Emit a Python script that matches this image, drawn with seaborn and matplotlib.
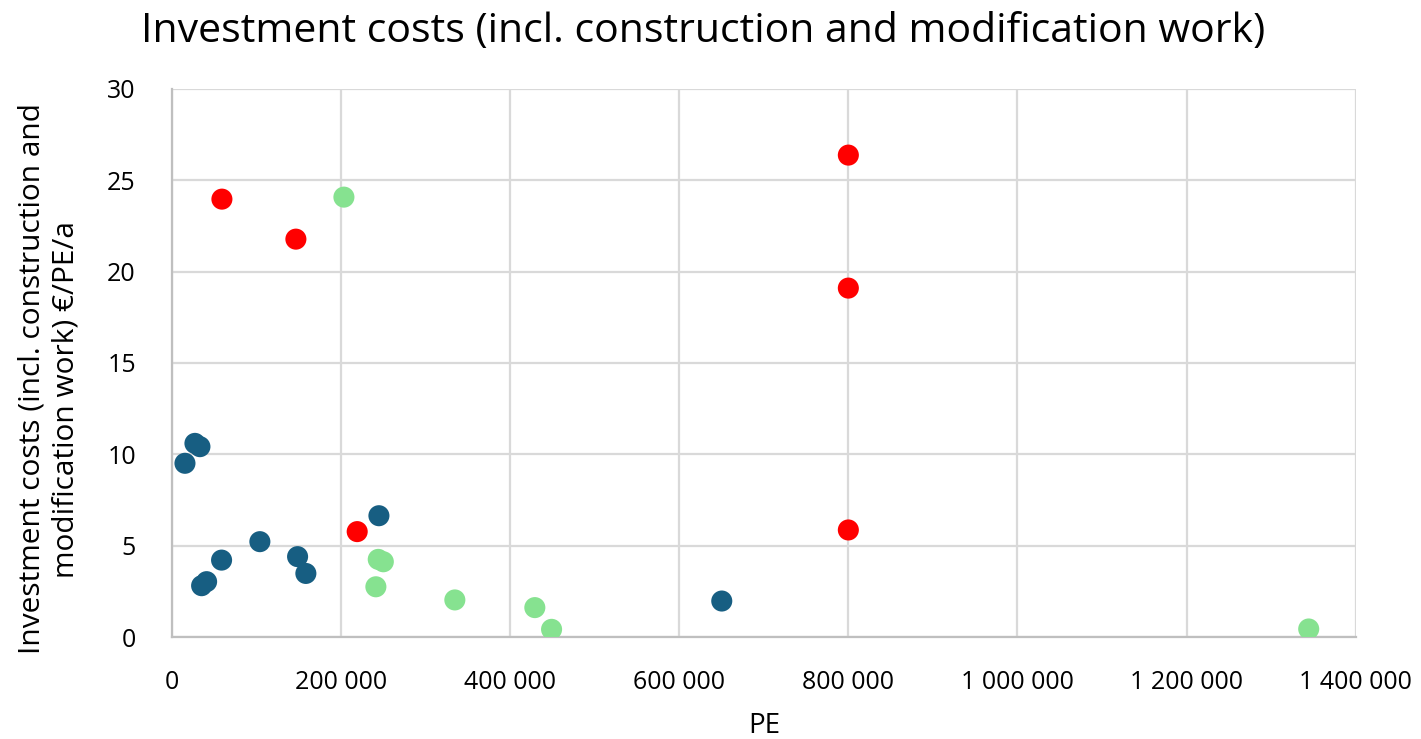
import matplotlib
matplotlib.use("Agg")
import matplotlib.pyplot as plt
from matplotlib.ticker import FuncFormatter, MultipleLocator
import seaborn as sns
import pandas as pd

# Plant size (PE) and specific investment costs (EUR/PE/a), by group
blue_pe = [15400, 27200, 33100, 35100, 41000, 58700, 104000, 148600, 158400, 244800, 650300]
blue_cost = [9.51, 10.6, 10.42, 2.81, 3.03, 4.21, 5.22, 4.40, 3.48, 6.64, 1.97]

red_pe = [59100, 146600, 219100, 800000, 800000, 800000]
red_cost = [23.97, 21.78, 5.77, 26.38, 19.1, 5.86]

green_pe = [203400, 244000, 250000, 241200, 334600, 429200, 449000, 1344500]
green_cost = [24.08, 4.25, 4.12, 2.75, 2.03, 1.61, 0.42, 0.44]

groups = ["blue", "red", "green"]
palette = {"blue": "#175E82", "red": "#FF0000", "green": "#86E290"}

ylabel_lines = ["Investment costs (incl. construction and", "modification work) €/PE/a"]

df = pd.concat([
    pd.DataFrame({"PE": blue_pe, "cost": blue_cost, "group": "blue"}),
    pd.DataFrame({"PE": red_pe, "cost": red_cost, "group": "red"}),
    pd.DataFrame({"PE": green_pe, "cost": green_cost, "group": "green"}),
], ignore_index=True)

sns.set_style("white")
plt.rcParams["font.family"] = ["Open Sans", "DejaVu Sans"]
plt.rcParams["text.color"] = "black"
plt.rcParams["axes.labelcolor"] = "black"

W, H = 1421, 739
fig = plt.figure(figsize=(W / 100, H / 100), dpi=100)
ax = fig.add_axes([0.121, 0.138, 0.833, 0.7416])

sns.scatterplot(data=df, x="PE", y="cost", hue="group", hue_order=groups,
                palette=palette, s=230, edgecolor="none", legend=False, ax=ax,
                zorder=3)

ax.set_xlim(0, 1400000)
ax.set_ylim(0, 30)
ax.xaxis.set_major_locator(MultipleLocator(200000))
ax.yaxis.set_major_locator(MultipleLocator(5))
ax.xaxis.set_major_formatter(FuncFormatter(lambda v, p: f"{int(v):,}".replace(",", " ")))
ax.grid(True, color="#d9d9d9", linewidth=1.6)
ax.set_axisbelow(True)

for side in ["top", "right"]:
    ax.spines[side].set_visible(False)
for side in ["left", "bottom"]:
    ax.spines[side].set_color("#bfbfbf")
    ax.spines[side].set_linewidth(1.6)

ax.tick_params(axis="both", length=0, labelsize=18, colors="#000000")
ax.tick_params(axis="y", pad=26)
ax.tick_params(axis="x", pad=24)

ax.set_xlabel("PE", fontsize=20, labelpad=12)
ax.set_ylabel("")

# two-line rotated y-axis title
fig.text(32 / W, 1 - 378 / H, ylabel_lines[0], rotation=90,
         ha="center", va="center", fontsize=21.5)
fig.text(66 / W, 1 - 400 / H, ylabel_lines[1], rotation=90,
         ha="center", va="center", fontsize=21.5)

fig.text(0.495, 0.957, "Investment costs (incl. construction and modification work)",
         ha="center", va="center", fontsize=29.5)

fig.savefig("out.png", dpi=100)
